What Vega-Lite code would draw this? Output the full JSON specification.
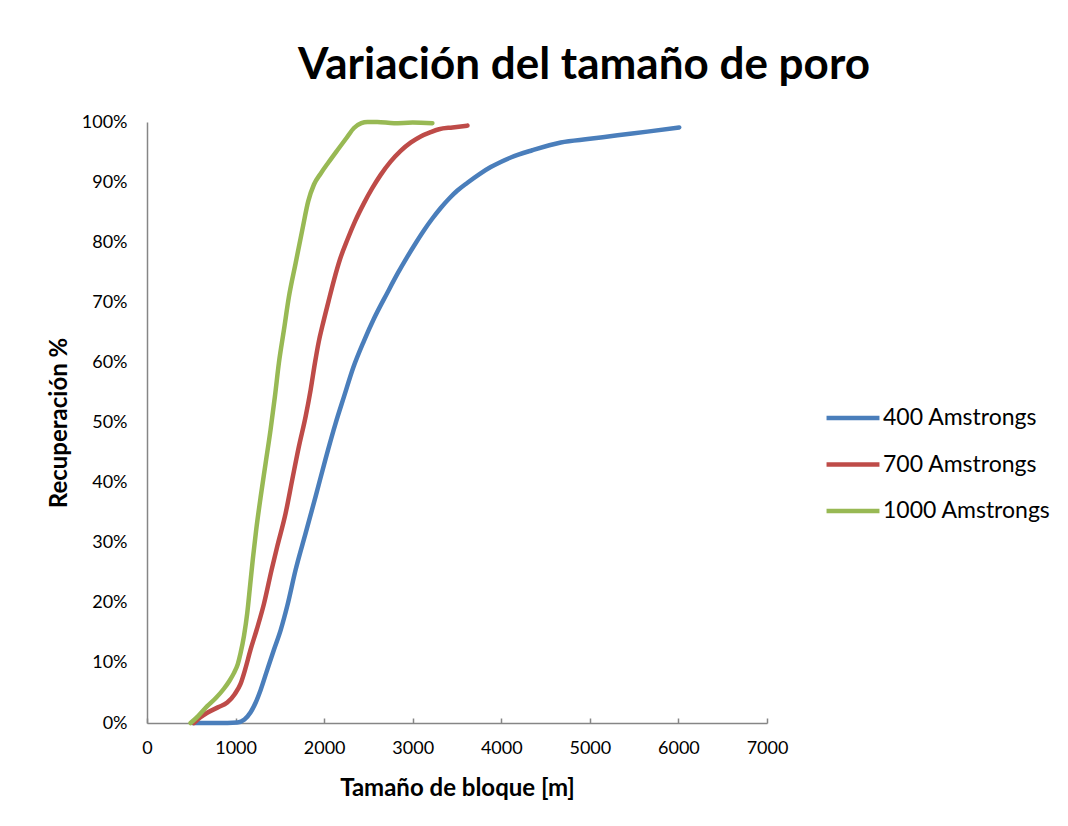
{
  "$schema": "https://vega.github.io/schema/vega-lite/v6.json",
  "autosize": {"type": "none"},
  "width": 620,
  "height": 601,
  "padding": {"left": 147, "top": 122, "right": 301, "bottom": 103},
  "background": "white",
  "config": {"font": "Lato", "view": {"stroke": null}},
  "title": {"text": "Variación del tamaño de poro", "fontSize": 44, "fontWeight": "bold", "font": "Lato", "color": "#000000", "anchor": "middle", "frame": "group", "dx": 127, "offset": 25},
  "data": {"values": [
    {"serie": "400 Amstrongs", "x": 510, "y": 0},
    {"serie": "400 Amstrongs", "x": 800, "y": 0},
    {"serie": "400 Amstrongs", "x": 1019, "y": 0.1},
    {"serie": "400 Amstrongs", "x": 1100, "y": 0.6},
    {"serie": "400 Amstrongs", "x": 1170, "y": 1.8},
    {"serie": "400 Amstrongs", "x": 1230, "y": 3.5},
    {"serie": "400 Amstrongs", "x": 1283, "y": 5.5},
    {"serie": "400 Amstrongs", "x": 1350, "y": 8.5},
    {"serie": "400 Amstrongs", "x": 1433, "y": 12.2},
    {"serie": "400 Amstrongs", "x": 1510, "y": 15.5},
    {"serie": "400 Amstrongs", "x": 1584, "y": 19.5},
    {"serie": "400 Amstrongs", "x": 1678, "y": 25.5},
    {"serie": "400 Amstrongs", "x": 1791, "y": 31.6},
    {"serie": "400 Amstrongs", "x": 1904, "y": 37.7},
    {"serie": "400 Amstrongs", "x": 2017, "y": 44},
    {"serie": "400 Amstrongs", "x": 2130, "y": 49.9},
    {"serie": "400 Amstrongs", "x": 2224, "y": 54.3},
    {"serie": "400 Amstrongs", "x": 2330, "y": 59.2},
    {"serie": "400 Amstrongs", "x": 2450, "y": 63.6},
    {"serie": "400 Amstrongs", "x": 2563, "y": 67.3},
    {"serie": "400 Amstrongs", "x": 2714, "y": 71.6},
    {"serie": "400 Amstrongs", "x": 2830, "y": 74.8},
    {"serie": "400 Amstrongs", "x": 2940, "y": 77.6},
    {"serie": "400 Amstrongs", "x": 3040, "y": 80},
    {"serie": "400 Amstrongs", "x": 3128, "y": 82},
    {"serie": "400 Amstrongs", "x": 3220, "y": 83.9},
    {"serie": "400 Amstrongs", "x": 3316, "y": 85.7},
    {"serie": "400 Amstrongs", "x": 3420, "y": 87.4},
    {"serie": "400 Amstrongs", "x": 3505, "y": 88.6},
    {"serie": "400 Amstrongs", "x": 3618, "y": 89.9},
    {"serie": "400 Amstrongs", "x": 3750, "y": 91.3},
    {"serie": "400 Amstrongs", "x": 3881, "y": 92.5},
    {"serie": "400 Amstrongs", "x": 4000, "y": 93.4},
    {"serie": "400 Amstrongs", "x": 4107, "y": 94.1},
    {"serie": "400 Amstrongs", "x": 4350, "y": 95.3},
    {"serie": "400 Amstrongs", "x": 4672, "y": 96.6},
    {"serie": "400 Amstrongs", "x": 5000, "y": 97.2},
    {"serie": "400 Amstrongs", "x": 5313, "y": 97.8},
    {"serie": "400 Amstrongs", "x": 5650, "y": 98.4},
    {"serie": "400 Amstrongs", "x": 6009, "y": 99.1},
    {"serie": "700 Amstrongs", "x": 529, "y": 0},
    {"serie": "700 Amstrongs", "x": 600, "y": 0.9},
    {"serie": "700 Amstrongs", "x": 680, "y": 1.7},
    {"serie": "700 Amstrongs", "x": 800, "y": 2.6},
    {"serie": "700 Amstrongs", "x": 906, "y": 3.4},
    {"serie": "700 Amstrongs", "x": 990, "y": 4.8},
    {"serie": "700 Amstrongs", "x": 1056, "y": 6.5},
    {"serie": "700 Amstrongs", "x": 1110, "y": 9},
    {"serie": "700 Amstrongs", "x": 1169, "y": 12.2},
    {"serie": "700 Amstrongs", "x": 1240, "y": 15.6},
    {"serie": "700 Amstrongs", "x": 1320, "y": 19.8},
    {"serie": "700 Amstrongs", "x": 1407, "y": 25.5},
    {"serie": "700 Amstrongs", "x": 1471, "y": 29.4},
    {"serie": "700 Amstrongs", "x": 1565, "y": 34.9},
    {"serie": "700 Amstrongs", "x": 1640, "y": 40.5},
    {"serie": "700 Amstrongs", "x": 1715, "y": 46},
    {"serie": "700 Amstrongs", "x": 1791, "y": 51},
    {"serie": "700 Amstrongs", "x": 1847, "y": 55.4},
    {"serie": "700 Amstrongs", "x": 1896, "y": 59.9},
    {"serie": "700 Amstrongs", "x": 1940, "y": 63.5},
    {"serie": "700 Amstrongs", "x": 1979, "y": 66},
    {"serie": "700 Amstrongs", "x": 2050, "y": 70.2},
    {"serie": "700 Amstrongs", "x": 2111, "y": 73.7},
    {"serie": "700 Amstrongs", "x": 2180, "y": 77.2},
    {"serie": "700 Amstrongs", "x": 2262, "y": 80.4},
    {"serie": "700 Amstrongs", "x": 2350, "y": 83.5},
    {"serie": "700 Amstrongs", "x": 2450, "y": 86.5},
    {"serie": "700 Amstrongs", "x": 2540, "y": 88.9},
    {"serie": "700 Amstrongs", "x": 2638, "y": 91.2},
    {"serie": "700 Amstrongs", "x": 2750, "y": 93.4},
    {"serie": "700 Amstrongs", "x": 2864, "y": 95.2},
    {"serie": "700 Amstrongs", "x": 2980, "y": 96.6},
    {"serie": "700 Amstrongs", "x": 3090, "y": 97.6},
    {"serie": "700 Amstrongs", "x": 3200, "y": 98.3},
    {"serie": "700 Amstrongs", "x": 3297, "y": 98.8},
    {"serie": "700 Amstrongs", "x": 3450, "y": 99.1},
    {"serie": "700 Amstrongs", "x": 3618, "y": 99.4},
    {"serie": "1000 Amstrongs", "x": 492, "y": 0},
    {"serie": "1000 Amstrongs", "x": 580, "y": 1.2},
    {"serie": "1000 Amstrongs", "x": 680, "y": 2.8},
    {"serie": "1000 Amstrongs", "x": 780, "y": 4.2},
    {"serie": "1000 Amstrongs", "x": 868, "y": 5.7},
    {"serie": "1000 Amstrongs", "x": 930, "y": 7},
    {"serie": "1000 Amstrongs", "x": 981, "y": 8.3},
    {"serie": "1000 Amstrongs", "x": 1025, "y": 9.8},
    {"serie": "1000 Amstrongs", "x": 1056, "y": 11.6},
    {"serie": "1000 Amstrongs", "x": 1095, "y": 14.5},
    {"serie": "1000 Amstrongs", "x": 1132, "y": 18.3},
    {"serie": "1000 Amstrongs", "x": 1165, "y": 23},
    {"serie": "1000 Amstrongs", "x": 1195, "y": 27.3},
    {"serie": "1000 Amstrongs", "x": 1230, "y": 31.8},
    {"serie": "1000 Amstrongs", "x": 1282, "y": 37.5},
    {"serie": "1000 Amstrongs", "x": 1339, "y": 43.2},
    {"serie": "1000 Amstrongs", "x": 1395, "y": 48.8},
    {"serie": "1000 Amstrongs", "x": 1444, "y": 54.3},
    {"serie": "1000 Amstrongs", "x": 1489, "y": 59.9},
    {"serie": "1000 Amstrongs", "x": 1546, "y": 65.4},
    {"serie": "1000 Amstrongs", "x": 1602, "y": 70.9},
    {"serie": "1000 Amstrongs", "x": 1678, "y": 76.5},
    {"serie": "1000 Amstrongs", "x": 1754, "y": 82.1},
    {"serie": "1000 Amstrongs", "x": 1820, "y": 86.8},
    {"serie": "1000 Amstrongs", "x": 1885, "y": 89.6},
    {"serie": "1000 Amstrongs", "x": 1960, "y": 91.4},
    {"serie": "1000 Amstrongs", "x": 2050, "y": 93.3},
    {"serie": "1000 Amstrongs", "x": 2149, "y": 95.3},
    {"serie": "1000 Amstrongs", "x": 2250, "y": 97.3},
    {"serie": "1000 Amstrongs", "x": 2337, "y": 99},
    {"serie": "1000 Amstrongs", "x": 2420, "y": 99.8},
    {"serie": "1000 Amstrongs", "x": 2488, "y": 100},
    {"serie": "1000 Amstrongs", "x": 2600, "y": 100},
    {"serie": "1000 Amstrongs", "x": 2789, "y": 99.8},
    {"serie": "1000 Amstrongs", "x": 3000, "y": 99.9},
    {"serie": "1000 Amstrongs", "x": 3222, "y": 99.8}
  ]},
  "mark": {"type": "line", "interpolate": "monotone", "strokeWidth": 4.5, "strokeCap": "round", "strokeJoin": "round", "clip": false},
  "encoding": {
    "x": {
      "field": "x", "type": "quantitative",
      "scale": {"domain": [0, 7000], "nice": false, "zero": true},
      "axis": {
        "title": "Tamaño de bloque [m]", "titleFont": "Lato", "titleFontSize": 24, "titleFontWeight": "bold", "titleColor": "#000000", "titlePadding": 19,
        "values": [0, 1000, 2000, 3000, 4000, 5000, 6000, 7000], "format": "d",
        "labelFont": "Lato", "labelFontSize": 18, "labelColor": "#000000", "labelPadding": 21, "labelFlush": false,
        "tickSize": -5, "tickColor": "#868686", "tickWidth": 1.5,
        "domainColor": "#868686", "domainWidth": 1.5, "grid": false
      }
    },
    "y": {
      "field": "y", "type": "quantitative",
      "scale": {"domain": [0, 100], "nice": false},
      "axis": {
        "title": "Recuperación %", "titleFont": "Lato", "titleFontSize": 24, "titleFontWeight": "bold", "titleColor": "#000000", "titlePadding": 10,
        "values": [0, 10, 20, 30, 40, 50, 60, 70, 80, 90, 100], "labelExpr": "datum.value + '%'",
        "labelFont": "Lato", "labelFontSize": 18, "labelColor": "#000000", "labelPadding": 20, "labelFlush": false,
        "ticks": false, "domainColor": "#868686", "domainWidth": 1.5, "grid": false
      }
    },
    "color": {
      "field": "serie", "type": "nominal",
      "sort": ["400 Amstrongs", "700 Amstrongs", "1000 Amstrongs"],
      "scale": {"domain": ["400 Amstrongs", "700 Amstrongs", "1000 Amstrongs"], "range": ["#4A7EBB", "#BE4B48", "#98B954"]},
      "legend": {
        "title": null, "orient": "none", "legendX": 677, "legendY": 267,
        "symbolType": "stroke", "symbolSize": 2800, "symbolStrokeWidth": 4.5,
        "labelFont": "Lato", "labelFontSize": 23, "labelColor": "#000000", "labelOffset": 1, "rowPadding": 5.5, "labelLimit": 300
      }
    }
  }
}
